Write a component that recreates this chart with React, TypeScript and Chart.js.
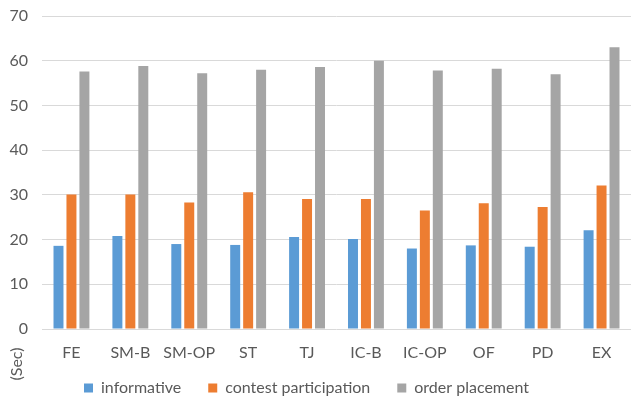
import React, { useEffect, useRef } from "react";
import { Chart, registerables } from "chart.js";

Chart.register(...registerables);

const categories = ["FE", "SM-B", "SM-OP", "ST", "TJ", "IC-B", "IC-OP", "OF", "PD", "EX"];
const informative = [18.6, 20.8, 19.0, 18.8, 20.6, 20.1, 18.0, 18.7, 18.4, 22.1];
const contestParticipation = [30.1, 30.1, 28.3, 30.6, 29.1, 29.1, 26.5, 28.1, 27.3, 32.1];
const orderPlacement = [57.6, 58.8, 57.2, 58.0, 58.6, 60.0, 57.8, 58.2, 57.0, 63.0];
const yTicks = [0, 10, 20, 30, 40, 50, 60, 70];
const unitLabel = "(Sec)";

const FONT = "Lato, 'Liberation Sans', sans-serif";
const TEXT = "#595959";

// Draws the unit label rotated in the lower-left corner, under the value axis.
const unitLabelPlugin = {
  id: "unitLabel",
  afterDraw(chart: any) {
    const { ctx } = chart;
    ctx.save();
    ctx.translate(17, 364);
    ctx.rotate(-Math.PI / 2);
    ctx.font = `16px ${FONT}`;
    ctx.fillStyle = TEXT;
    ctx.textAlign = "center";
    ctx.textBaseline = "middle";
    ctx.fillText(unitLabel, 0, 0);
    ctx.restore();
  },
};

// Pulls the legend row up and left so its wide item spacing does not
// steal height from the category labels.
const legendNudgePlugin = {
  id: "legendNudge",
  afterLayout(chart: any) {
    const lg = chart.legend;
    if (!lg) return;
    lg.top -= 12;
    lg.bottom -= 12;
    lg.left -= 11;
    lg.right -= 11;
  },
};

export default function App() {
  const canvasRef = useRef<HTMLCanvasElement | null>(null);

  useEffect(() => {
    if (!canvasRef.current) return;
    const chart = new Chart(canvasRef.current, {
      type: "bar",
      data: {
        labels: categories,
        datasets: [
          { label: "informative", data: informative, backgroundColor: "#5B9BD5" },
          { label: "contest participation", data: contestParticipation, backgroundColor: "#ED7D31" },
          { label: "order placement", data: orderPlacement, backgroundColor: "#A5A5A5" },
        ],
      },
      options: {
        animation: false,
        responsive: false,
        maintainAspectRatio: false,
        layout: { padding: { top: 0, right: -4, left: 0, bottom: -17 } },
        datasets: { bar: { categoryPercentage: 0.66, barPercentage: 0.77 } },
        plugins: {
          tooltip: { enabled: false },
          legend: {
            position: "bottom",
            labels: {
              color: TEXT,
              font: { family: FONT, size: 16 },
              boxWidth: 9,
              boxHeight: 9,
              padding: 27,
            },
          },
        },
        scales: {
          x: {
            afterFit: (s: any) => {
              s.height = 36;
            },
            grid: { display: false, drawTicks: false },
            border: { display: false },
            ticks: { color: TEXT, font: { family: FONT, size: 16 }, padding: 14 },
          },
          y: {
            min: 0,
            max: 70,
            afterFit: (s: any) => {
              s.width = 42;
              s.paddingTop = 16;
              s.paddingBottom = 0;
            },
            afterBuildTicks: (s: any) => {
              s.ticks = yTicks.map((v) => ({ value: v }));
            },
            grid: { color: "#D9D9D9", lineWidth: 1, drawTicks: false },
            border: { display: false },
            ticks: { color: TEXT, font: { family: FONT, size: 16 }, padding: 14 },
          },
        },
      },
      plugins: [unitLabelPlugin, legendNudgePlugin],
    });
    return () => chart.destroy();
  }, []);

  return (
    <div style={{ position: "fixed", left: 0, top: 0, width: 631, height: 401, background: "#fff" }}>
      <canvas ref={canvasRef} width={631} height={401} />
    </div>
  );
}
